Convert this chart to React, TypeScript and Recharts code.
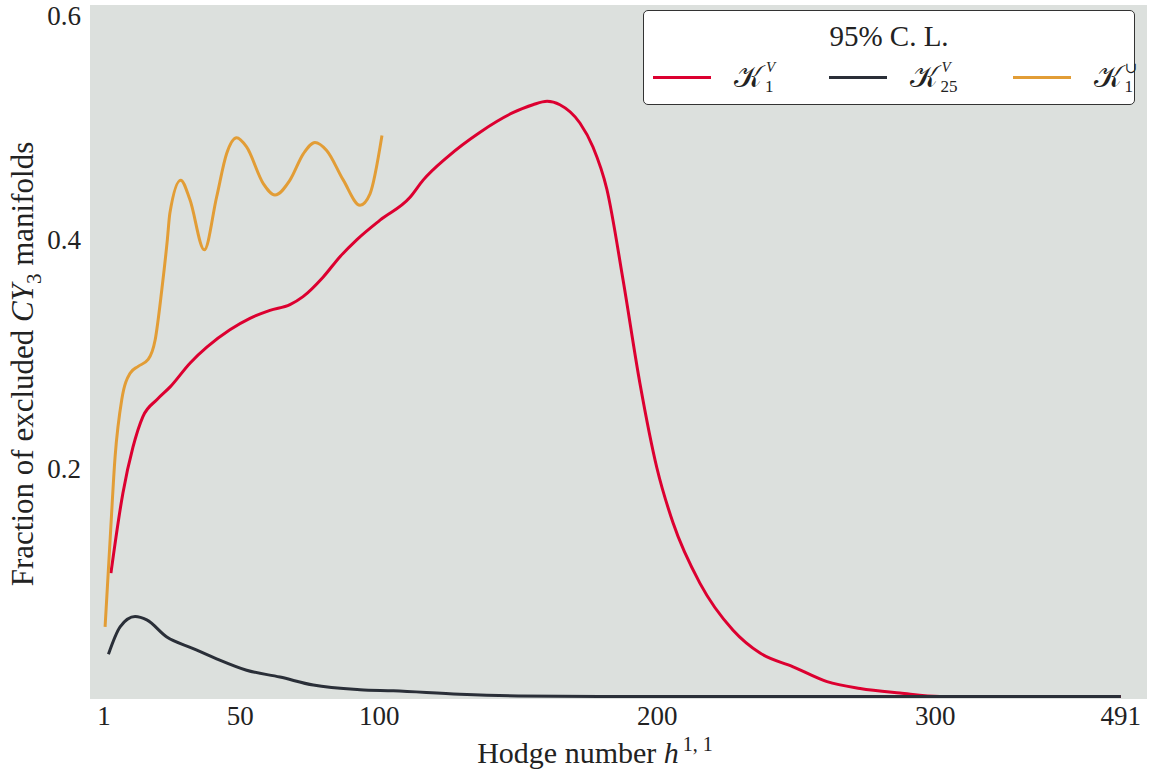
import { LineChart, Line, XAxis, YAxis, CartesianGrid, Label } from 'recharts';

// K1^V (red)
const redX = [3.5, 7.8, 11.4, 15.0, 20.1, 24.8, 32.0, 38.1, 46.3, 53.5, 60.7, 67.9, 72.6, 79.8, 85.9, 92.0, 100.3, 111.1, 115.8, 124.4, 136.3, 148.1, 155.3, 160.4, 165.0, 172.2, 176.9, 181.9, 187.7, 193.8, 199.9, 205.7, 215.4, 227.3, 237.0, 248.9, 261.1, 273.0, 287.3, 301.7, 366.8];
const redY = [0.108, 0.178, 0.218, 0.245, 0.260, 0.271, 0.292, 0.306, 0.321, 0.331, 0.338, 0.343, 0.350, 0.367, 0.385, 0.400, 0.417, 0.437, 0.452, 0.472, 0.494, 0.511, 0.518, 0.521, 0.518, 0.502, 0.481, 0.444, 0.365, 0.274, 0.200, 0.152, 0.099, 0.058, 0.038, 0.026, 0.013, 0.007, 0.003, 0.0, 0.0];

// K25^V (dark)
const darkX = [2.6, 6.8, 12.2, 16.4, 23.6, 33.1, 41.5, 52.3, 64.3, 76.3, 93.1, 105.1, 129.0, 150.0, 180.0, 366.8];
const darkY = [0.037, 0.061, 0.070, 0.067, 0.052, 0.042, 0.033, 0.023, 0.017, 0.010, 0.006, 0.005, 0.002, 0.0005, 0.0, 0.0];

// K1^union (orange)
const orangeX = [1.4, 3.2, 5.0, 7.4, 10.4, 13.3, 16.9, 19.4, 21.8, 23.8, 24.7, 28.6, 31.9, 37.1, 41.5, 45.1, 48.7, 52.3, 58.3, 62.5, 67.9, 72.7, 76.9, 81.1, 87.1, 93.1, 96.7, 101.0];
const orangeY = [0.061, 0.137, 0.210, 0.260, 0.283, 0.289, 0.295, 0.312, 0.356, 0.400, 0.423, 0.452, 0.435, 0.391, 0.437, 0.475, 0.489, 0.481, 0.449, 0.439, 0.452, 0.475, 0.485, 0.478, 0.452, 0.430, 0.440, 0.491];

const xTicks = [1, 50, 100, 200, 300, 366.8];
const xTickLabels = ['1', '50', '100', '200', '300', '491'];
const yTicks = [0.2, 0.4, 0.6];

const zip = (xs: number[], ys: number[]) => xs.map((x, i) => ({ x, y: ys[i] }));

const series = [
  { key: 'k1v', data: zip(redX, redY), color: '#dc0030', base: '1', sup: 'V', supItalic: true },
  { key: 'k25v', data: zip(darkX, darkY), color: '#2a2f38', base: '25', sup: 'V', supItalic: true },
  { key: 'k1u', data: zip(orangeX, orangeY), color: '#e29d36', base: '1', sup: '\u222A', supItalic: false },
];

const FONT = '"Liberation Serif", "DejaVu Serif", serif';

const XLabel = () => (
  <text x={595} y={763} textAnchor="middle" fontSize={30} fontFamily={FONT} fill="#222">
    Hodge number <tspan fontStyle="italic">h</tspan>
    <tspan dx={4} dy={-12} fontSize={20}>1, 1</tspan>
  </text>
);

const YLabel = () => (
  <text transform="rotate(-90)" x={-364} y={33} textAnchor="middle" fontSize={31} fontFamily={FONT} fill="#222">
    Fraction of excluded <tspan fontStyle="italic">CY</tspan>
    <tspan dy={8} fontSize={21}>3</tspan>
    <tspan dy={-8}> manifolds</tspan>
  </text>
);

function KSymbol({ base, sup, supItalic }: { base: string; sup: string; supItalic: boolean }) {
  return (
    <div style={{ display: 'flex', height: 32, alignItems: 'flex-start' }}>
      <span style={{ fontSize: 30, lineHeight: '32px' }}>{'\uD835\uDCA6'}</span>
      <div style={{ position: 'relative', display: 'flex', height: 32, marginLeft: 3 }}>
        <span
          style={{
            position: 'absolute',
            left: sup === 'V' ? 1 : 0,
            top: -2,
            fontSize: 15,
            lineHeight: 'normal',
            fontStyle: supItalic ? 'italic' : 'normal',
          }}
        >
          {sup}
        </span>
        <span style={{ display: 'block', marginTop: 15.5, fontSize: 17, lineHeight: 'normal' }}>{base}</span>
      </div>
    </div>
  );
}

export default function App() {
  return (
    <div style={{ position: 'fixed', left: 0, top: 0, width: 1153, height: 774, background: '#fff', fontFamily: FONT }}>
      <LineChart width={1153} height={774} data={series[0].data} margin={{ top: 5, right: 6, left: 0, bottom: 0 }}>
        <CartesianGrid fill="#dce0dd" stroke="none" horizontal={false} vertical={false} />
        <XAxis
          dataKey="x"
          type="number"
          domain={[-4.03, 376.2]}
          ticks={xTicks}
          tickFormatter={(v: number) => xTickLabels[xTicks.indexOf(v)] ?? String(v)}
          allowDataOverflow
          axisLine={false}
          tickLine={false}
          tickSize={0}
          tickMargin={7}
          height={75}
          tick={{ fontSize: 27, fontFamily: FONT, fill: '#222' }}
        >
          <Label content={<XLabel />} />
        </XAxis>
        <YAxis
          dataKey="y"
          type="number"
          domain={[-0.0022, 0.6053]}
          ticks={yTicks}
          allowDataOverflow
          axisLine={false}
          tickLine={false}
          tickSize={0}
          tickMargin={9}
          width={90}
          tick={{ fontSize: 27, fontFamily: FONT, fill: '#222' }}
        >
          <Label content={<YLabel />} />
        </YAxis>
        {series.map((s) => (
          <Line
            key={s.key}
            data={s.data}
            dataKey="y"
            type="monotone"
            stroke={s.color}
            strokeWidth={3}
            dot={false}
            activeDot={false}
            isAnimationActive={false}
          />
        ))}
      </LineChart>

      {/* legend */}
      <div
        style={{
          position: 'absolute',
          left: 643,
          top: 10,
          width: 490,
          height: 93,
          background: '#fff',
          border: '1px solid #333',
          borderRadius: 5,
          color: '#222',
        }}
      >
        <div style={{ position: 'absolute', left: 0, right: 0, top: 9, textAlign: 'center', fontSize: 29, lineHeight: '32px' }}>
          95% C. L.
        </div>
        <div style={{ position: 'absolute', left: 9, top: 50, height: 32, display: 'flex', alignItems: 'center', gap: 55 }}>
          {series.map((s) => (
            <div key={s.key} style={{ display: 'flex', alignItems: 'center' }}>
              <div style={{ width: 58, height: 3, background: s.color, marginRight: 23 }} />
              <KSymbol base={s.base} sup={s.sup} supItalic={s.supItalic} />
            </div>
          ))}
        </div>
      </div>
    </div>
  );
}
